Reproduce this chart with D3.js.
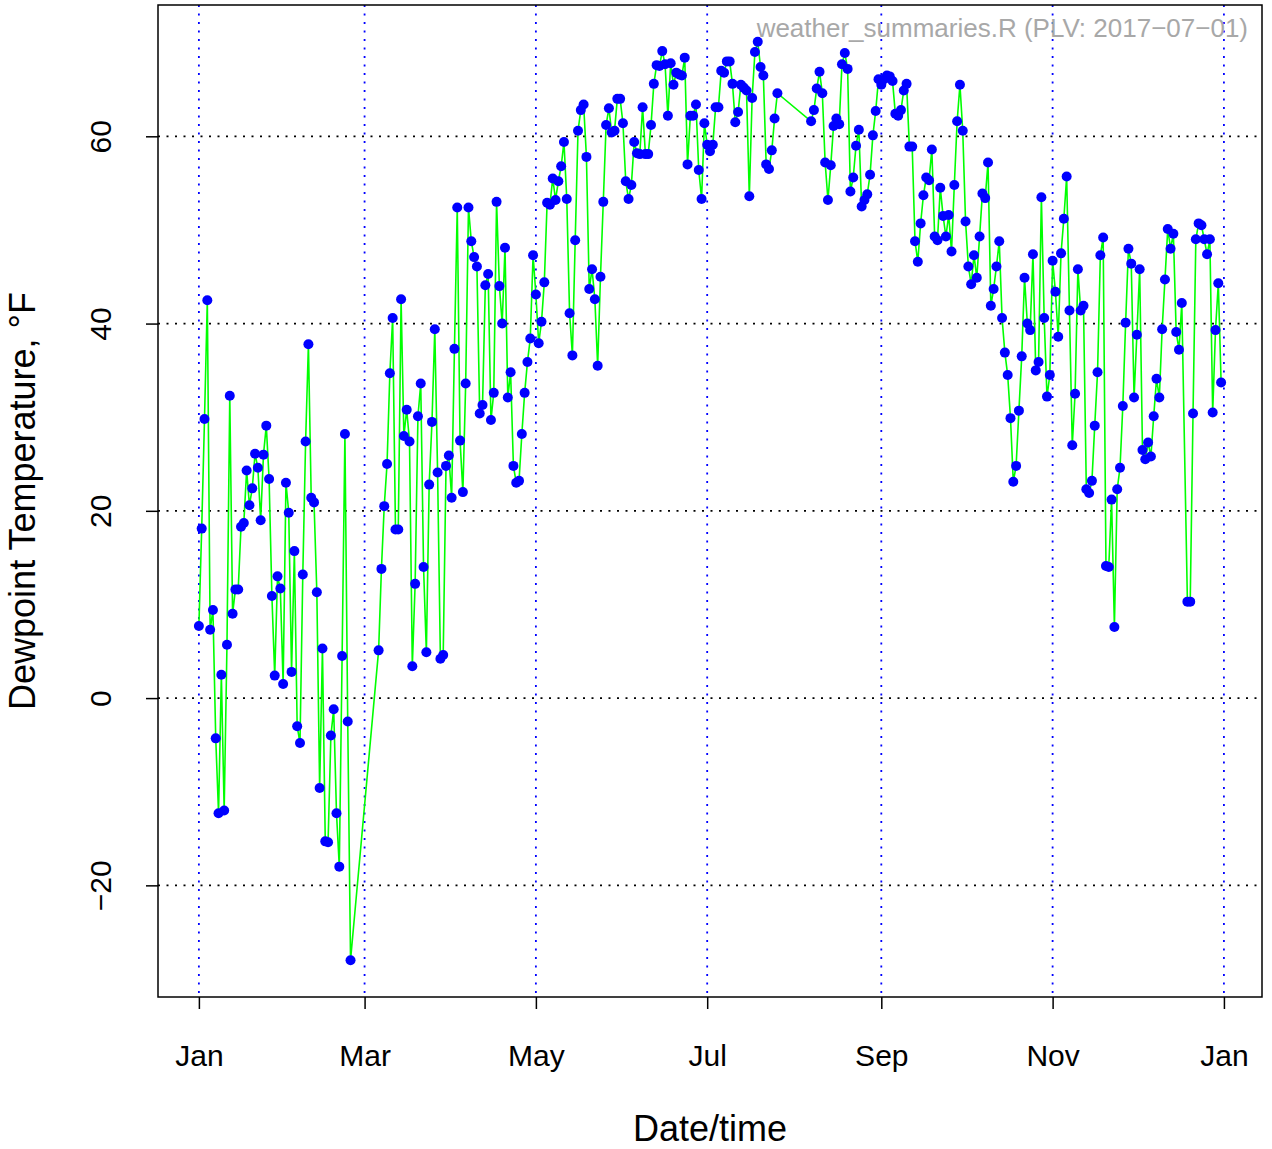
<!DOCTYPE html>
<html>
<head>
<meta charset="utf-8">
<title>Dewpoint Temperature</title>
<style>
  body { margin: 0; background: #fff; }
  svg { display: block; font-family: "Liberation Sans", Arial, Helvetica, sans-serif; }
</style>
</head>
<body>
<script src="https://cdn.jsdelivr.net/npm/d3@7"></script>
<script>

var width = 1272,
    height = 1149;
var margin = {top: 5, right: 10, bottom: 152, left: 158};

// daily dewpoint (degF), one value per day from each start date
var janFebStart = "2015-01-01";
var janFeb = [7.7, 18.1, 29.8, 42.5, 7.3, 9.4, -4.3, -12.3, 2.5, -12.0,
              5.7, 32.3, 9.0, 11.6, 11.6, 18.3, 18.7, 24.3, 20.6, 22.4,
              26.1, 24.6, 19.0, 26.0, 29.1, 23.4, 10.9, 2.4, 13.0, 11.7,
              1.5, 23.0, 19.8, 2.8, 15.7, -3.0, -4.8, 13.2, 27.4, 37.8,
              21.4, 20.9, 11.3, -9.6, 5.3, -15.3, -15.4, -4.0, -1.2, -12.3,
              -18.0, 4.5, 28.2, -2.5, -28.0];

var marJulStart = "2015-03-06";
var marJul = [5.1, 13.8, 20.5, 25.0, 34.7, 40.6, 18.0, 18.0, 42.6, 28.0,
              30.8, 27.4, 3.4, 12.2, 30.1, 33.6, 14.0, 4.9, 22.8, 29.5,
              39.4, 24.1, 4.2, 4.6, 24.8, 25.9, 21.4, 37.3, 52.4, 27.5,
              22.0, 33.6, 52.4, 48.8, 47.1, 46.1, 30.4, 31.3, 44.1, 45.3,
              29.7, 32.6, 53.0, 44.0, 40.0, 48.1, 32.1, 34.8, 24.8, 23.0,
              23.2, 28.2, 32.6, 35.9, 38.4, 47.3, 43.1, 37.9, 40.2, 44.4,
              52.9, 52.7, 55.5, 53.2, 55.2, 56.8, 59.4, 53.3, 41.1, 36.6,
              48.9, 60.6, 62.8, 63.4, 57.8, 43.7, 45.8, 42.6, 35.5, 45.0,
              53.0, 61.2, 63.0, 60.4, 60.6, 64.0, 64.0, 61.4, 55.2, 53.3,
              54.8, 59.4, 58.2, 58.1, 63.1, 58.1, 58.1, 61.2, 65.6, 67.6,
              67.5, 69.1, 67.7, 62.2, 67.8, 65.5, 66.8, 66.6, 66.5, 68.4,
              57.0, 62.2, 62.2, 63.4, 56.4, 53.3, 61.4, 59.1, 58.4, 59.1,
              63.1, 63.1, 67.0, 66.8, 68.0, 68.0, 65.6, 61.5, 62.6, 65.5,
              65.2, 64.9, 53.6, 64.1, 69.0, 70.1, 67.4, 66.5, 57.0, 56.5,
              58.5, 61.9, 64.6];

var augDecStart = "2015-08-07";
var augDec = [61.6, 62.8, 65.1, 66.9, 64.6, 57.2, 53.2, 56.9, 61.1, 61.9,
              61.3, 67.7, 68.9, 67.2, 54.1, 55.6, 59.0, 60.7, 52.5, 53.2,
              53.8, 55.9, 60.1, 62.7, 66.1, 65.5, 66.1, 66.5, 66.4, 65.9,
              62.4, 62.2, 62.8, 64.9, 65.6, 58.9, 58.9, 48.8, 46.6, 50.7,
              53.7, 55.6, 55.3, 58.6, 49.3, 48.9, 54.5, 51.5, 49.3, 51.6,
              47.7, 54.8, 61.6, 65.5, 60.6, 50.9, 46.1, 44.2, 47.3, 44.9,
              49.3, 53.9, 53.4, 57.2, 41.9, 43.7, 46.1, 48.8, 40.6, 36.9,
              34.5, 29.9, 23.1, 24.8, 30.7, 36.5, 44.9, 40.0, 39.3, 47.4,
              35.0, 35.9, 53.5, 40.6, 32.2, 34.5, 46.7, 43.4, 38.6, 47.5,
              51.2, 55.7, 41.4, 27.0, 32.5, 45.8, 41.4, 41.9, 22.3, 21.9,
              23.2, 29.1, 34.8, 47.3, 49.2, 14.1, 14.0, 21.2, 7.6, 22.3,
              24.6, 31.2, 40.1, 48.0, 46.4, 32.1, 38.8, 45.8, 26.5, 25.5,
              27.3, 25.8, 30.1, 34.1, 32.1, 39.4, 44.7, 50.1, 48.0, 49.6,
              39.1, 37.2, 42.2];

var decEndStart = "2015-12-19";
var decEnd = [10.3, 10.3, 30.4, 49.0, 50.7, 50.5, 49.0, 47.4, 49.0, 30.5,
              39.3, 44.3, 33.7];

var monthTicks = ["2015-01-01", "2015-03-01", "2015-05-01", "2015-07-01",
                  "2015-09-01", "2015-11-01", "2016-01-01"];
var monthLabels = ["Jan", "Mar", "May", "Jul", "Sep", "Nov", "Jan"];
var yTicks = [-20, 0, 20, 40, 60];

var parse = d3.utcParse("%Y-%m-%d");

function daily(start, vals) {
  var t0 = parse(start);
  return vals.map(function(v, i) {
    return {date: d3.utcDay.offset(t0, i), value: v};
  });
}

var data = [].concat(daily(janFebStart, janFeb), daily(marJulStart, marJul),
                     daily(augDecStart, augDec), daily(decEndStart, decEnd));

// R style: range + 4% on both sides
var xExt = d3.extent(data, function(d) { return d.date; });
var xPad = (xExt[1] - xExt[0]) * 0.04;
var x = d3.scaleUtc()
    .domain([new Date(+xExt[0] - xPad), new Date(+xExt[1] + xPad)])
    .range([margin.left, width - margin.right]);

var yExt = d3.extent(data, function(d) { return d.value; });
var yPad = (yExt[1] - yExt[0]) * 0.04;
var y = d3.scaleLinear()
    .domain([yExt[0] - yPad, yExt[1] + yPad])
    .range([height - margin.bottom, margin.top]);

var svg = d3.select("body").append("svg")
    .attr("width", width)
    .attr("height", height);

// grid
svg.append("g").selectAll("line")
    .data(yTicks)
    .enter().append("line")
    .attr("x1", x.range()[0]).attr("x2", x.range()[1])
    .attr("y1", function(d) { return y(d); })
    .attr("y2", function(d) { return y(d); })
    .attr("stroke", "#000")
    .attr("stroke-width", 1.8)
    .attr("stroke-dasharray", "2,6.5");

svg.append("g").selectAll("line")
    .data(monthTicks.map(parse))
    .enter().append("line")
    .attr("x1", function(d) { return x(d); })
    .attr("x2", function(d) { return x(d); })
    .attr("y1", y.range()[1]).attr("y2", y.range()[0])
    .attr("stroke", "#0000FF")
    .attr("stroke-width", 1.8)
    .attr("stroke-dasharray", "2,6.5");

// series
var line = d3.line()
    .x(function(d) { return x(d.date); })
    .y(function(d) { return y(d.value); });

svg.append("path")
    .datum(data)
    .attr("d", line)
    .attr("fill", "none")
    .attr("stroke", "#00FF00")
    .attr("stroke-width", 1.6);

svg.append("g").selectAll("circle")
    .data(data)
    .enter().append("circle")
    .attr("cx", function(d) { return x(d.date); })
    .attr("cy", function(d) { return y(d.value); })
    .attr("r", 5)
    .attr("fill", "#0000FF");

// axes
var xAxis = svg.append("g")
    .attr("transform", "translate(0," + y.range()[0] + ")")
    .call(d3.axisBottom(x)
      .tickValues(monthTicks.map(parse))
      .tickFormat(function(d, i) { return monthLabels[i]; })
      .tickSize(12).tickSizeOuter(0));
xAxis.attr("font-size", 30).attr("font-family", null);
xAxis.select(".domain").remove();
xAxis.selectAll("line").attr("stroke-width", 1.5);
xAxis.selectAll("text").attr("y", 69).attr("dy", null).attr("fill", "#000");

var yAxis = svg.append("g")
    .attr("transform", "translate(" + margin.left + ",0)")
    .call(d3.axisLeft(y)
      .tickValues(yTicks)
      .tickFormat(function(d) { return d < 0 ? "\u2212" + Math.abs(d) : d; })
      .tickSize(12).tickSizeOuter(0));
yAxis.attr("font-size", 30).attr("font-family", null);
yAxis.select(".domain").remove();
yAxis.selectAll("line").attr("stroke-width", 1.5);
yAxis.selectAll("text")
    .attr("x", null).attr("dy", null)
    .attr("text-anchor", "middle")
    .attr("fill", "#000")
    .attr("transform", "translate(-47,0) rotate(-90)");

// box
svg.append("rect")
    .attr("x", x.range()[0]).attr("y", y.range()[1])
    .attr("width", x.range()[1] - x.range()[0])
    .attr("height", y.range()[0] - y.range()[1])
    .attr("fill", "none")
    .attr("stroke", "#000")
    .attr("stroke-width", 1.5);

// titles
svg.append("text")
    .attr("x", (x.range()[0] + x.range()[1]) / 2)
    .attr("y", 1141)
    .attr("text-anchor", "middle")
    .attr("font-size", 36)
    .text("Date/time");

svg.append("text")
    .attr("transform", "translate(35," + (y.range()[0] + y.range()[1]) / 2 + ") rotate(-90)")
    .attr("text-anchor", "middle")
    .attr("font-size", 36)
    .text("Dewpoint Temperature, \u00B0F");

svg.append("text")
    .attr("x", 1248)
    .attr("y", 37)
    .attr("text-anchor", "end")
    .attr("font-size", 26)
    .attr("fill", "#A8A8A8")
    .text("weather_summaries.R (PLV: 2017\u221207\u221201)");

</script>
</body>
</html>
